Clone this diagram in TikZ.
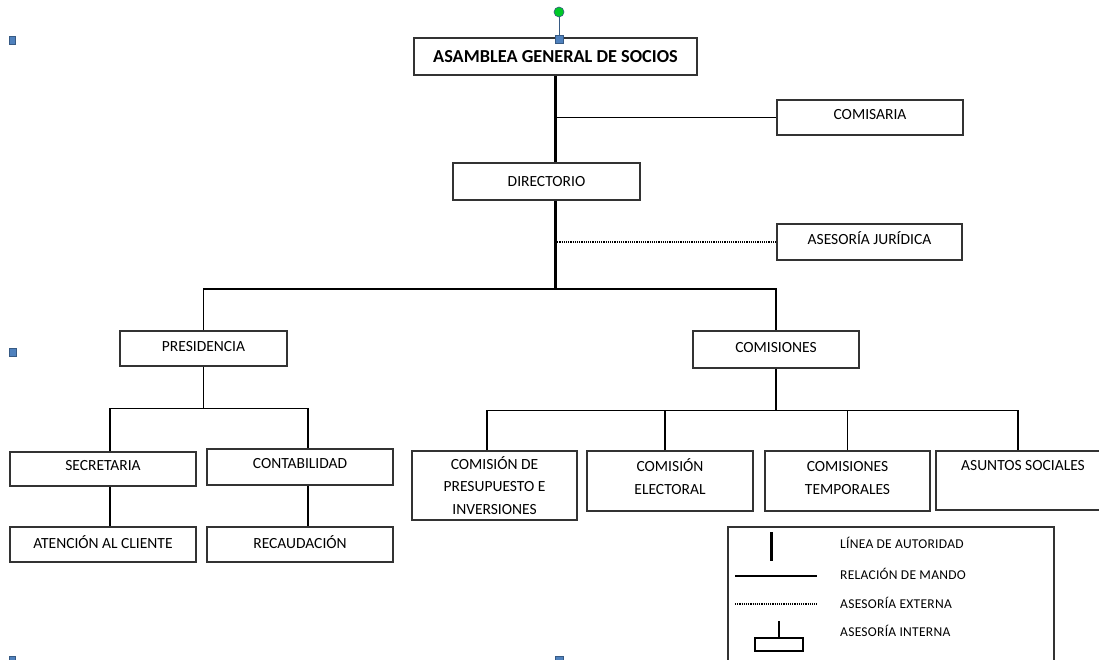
\documentclass[tikz,border=0pt]{standalone}
\usepackage{fontspec}
\setmainfont{Carlito}
\usetikzlibrary{positioning}

\definecolor{handleblue}{RGB}{79,129,189}
\definecolor{handlegreen}{RGB}{0,200,40}

\tikzset{
  unit/.style={draw=black!80, line width=1.2pt, fill=white, inner sep=2pt,
    align=center, font=\fontsize{15.5}{22.5}\selectfont},
  head/.style={unit, font=\fontsize{18.3}{22}\selectfont\bfseries},
  lift/.style={text depth=#1},
  mando/.style={line width=1.1pt},
  autoridad/.style={line width=3pt},
  externa/.style={line width=1.2pt, densely dotted},
  legtext/.style={anchor=west, inner sep=0pt,
    font=\fontsize{13.5}{15}\selectfont\addfontfeatures{LetterSpace=2}},
  handle/.style={fill=handleblue, draw=handleblue!70!black, line width=0.4pt}
}

\begin{document}
\begin{tikzpicture}[x=1pt, y=-1pt]
    \useasboundingbox (0,0) rectangle (1099,660);
    \clip (0,0) rectangle (1099,660);

    % boxes
    \node[head, minimum width=283pt, minimum height=37pt] (asamblea) at (555.5, 56.5) {ASAMBLEA GENERAL DE SOCIOS};
    \node[unit, lift=7pt, minimum width=186pt, minimum height=35pt] (comisaria) at (870, 117.5) {COMISARIA};
    \node[unit, minimum width=187pt, minimum height=37pt] (directorio) at (546.5, 181.5) {DIRECTORIO};
    \node[unit, lift=7pt, minimum width=185pt, minimum height=36pt] (asesoria) at (869.5, 242) {ASESORÍA JURÍDICA};
    \node[unit, lift=5pt, minimum width=167pt, minimum height=35pt] (presidencia) at (203.5, 348.5) {PRESIDENCIA};
    \node[unit, lift=5pt, minimum width=166pt, minimum height=37pt] (comisiones) at (776, 349.5) {COMISIONES};
    \node[unit, lift=7pt, minimum width=186pt, minimum height=34pt] (secretaria) at (103, 469) {SECRETARIA};
    \node[unit, lift=8pt, minimum width=186pt, minimum height=36pt] (contabilidad) at (300, 467) {CONTABILIDAD};
    \node[unit, lift=5pt, minimum width=186pt, minimum height=35pt] (atencion) at (103, 544.5) {ATENCIÓN AL CLIENTE};
    \node[unit, lift=5pt, minimum width=186pt, minimum height=35pt] (recaudacion) at (300, 544.5) {RECAUDACIÓN};
    \node[unit, minimum width=165pt, minimum height=69pt] (presupuesto) at (494.5, 485.5) {COMISIÓN DE\\PRESUPUESTO E\\INVERSIONES};
    \node[unit, lift=9pt, minimum width=166pt, minimum height=60pt] (electoral) at (670, 481) {COMISIÓN\\ELECTORAL};
    \node[unit, lift=6pt, minimum width=165pt, minimum height=60pt] (temporales) at (847.5, 481) {COMISIONES\\TEMPORALES};
    \node[unit, lift=30pt, minimum width=174pt, minimum height=59pt] (sociales) at (1023, 480.5) {ASUNTOS SOCIALES};

    % junctions
    \coordinate (j1) at (555, 289);
    \coordinate[below=42pt of presidencia.south] (j2);
    \coordinate[below=42pt of comisiones.south] (j3);

    % line of authority
    \draw[autoridad] (asamblea.south -| j1) -- (directorio.north -| j1);
    \draw[autoridad] (directorio.south -| j1) -- (j1);
    \draw[mando] (comisaria.west -| j1) -- (comisaria.west);
    \draw[externa] (asesoria.west -| j1) -- (asesoria.west);
    \draw[mando] (presidencia.north) |- (j1) -| (comisiones.north);

    % presidencia
    \draw[mando] (presidencia.south) -- (j2);
    \draw[mando] ([xshift=7pt]secretaria.north) |- (j2) -| ([xshift=8pt]contabilidad.north);
    \draw[mando] ([xshift=7pt]secretaria.south) -- ([xshift=7pt]atencion.north);
    \draw[mando] ([xshift=8pt]contabilidad.south) -- ([xshift=8pt]recaudacion.north);

    % comisiones
    \draw[mando] (comisiones.south) -- (j3);
    \draw[mando] ([xshift=-7.5pt]presupuesto.north) |- (j3) -| ([xshift=-5pt]sociales.north);
    \draw[mando] ([xshift=-5pt]electoral.north) -- ([xshift=-5pt]electoral.north |- j3);
    \draw[mando] (temporales.north) -- (temporales.north |- j3);

    % legend
    \node[draw=black!80, line width=1.2pt, minimum width=326pt, minimum height=145pt] (legend) at (891, 599.5) {};
    \node[legtext] (lautoridad) at (840, 543) {LÍNEA DE AUTORIDAD};
    \node[legtext] (lmando) at (840, 574) {RELACIÓN DE MANDO};
    \node[legtext] (lexterna) at (840, 603) {ASESORÍA EXTERNA};
    \node[legtext] (linterna) at (840, 631) {ASESORÍA INTERNA};
    \draw[autoridad] (771, 532) -- (771, 561);
    \draw[mando] (735, 576) -- (817, 576);
    \draw[externa] (735, 604) -- (817, 604);
    \draw[mando] (779, 621) -- (779, 638);
    \draw[mando] (755, 638) rectangle (803, 651);

    % selection handles
    \draw[handleblue!70!black, line width=0.8pt] (559, 16) -- (559, 35);
    \draw[fill=handlegreen, draw=handleblue!70!black, line width=0.6pt] (559, 12) circle (5);
    \filldraw[handle] (555, 35) rectangle (563, 43);
    \filldraw[handle] (9, 36) rectangle (15, 44);
    \filldraw[handle] (9, 348) rectangle (16, 356);
    \filldraw[handle] (9, 656) rectangle (15, 662);
    \filldraw[handle] (555, 656) rectangle (563, 662);
\end{tikzpicture}
\end{document}
